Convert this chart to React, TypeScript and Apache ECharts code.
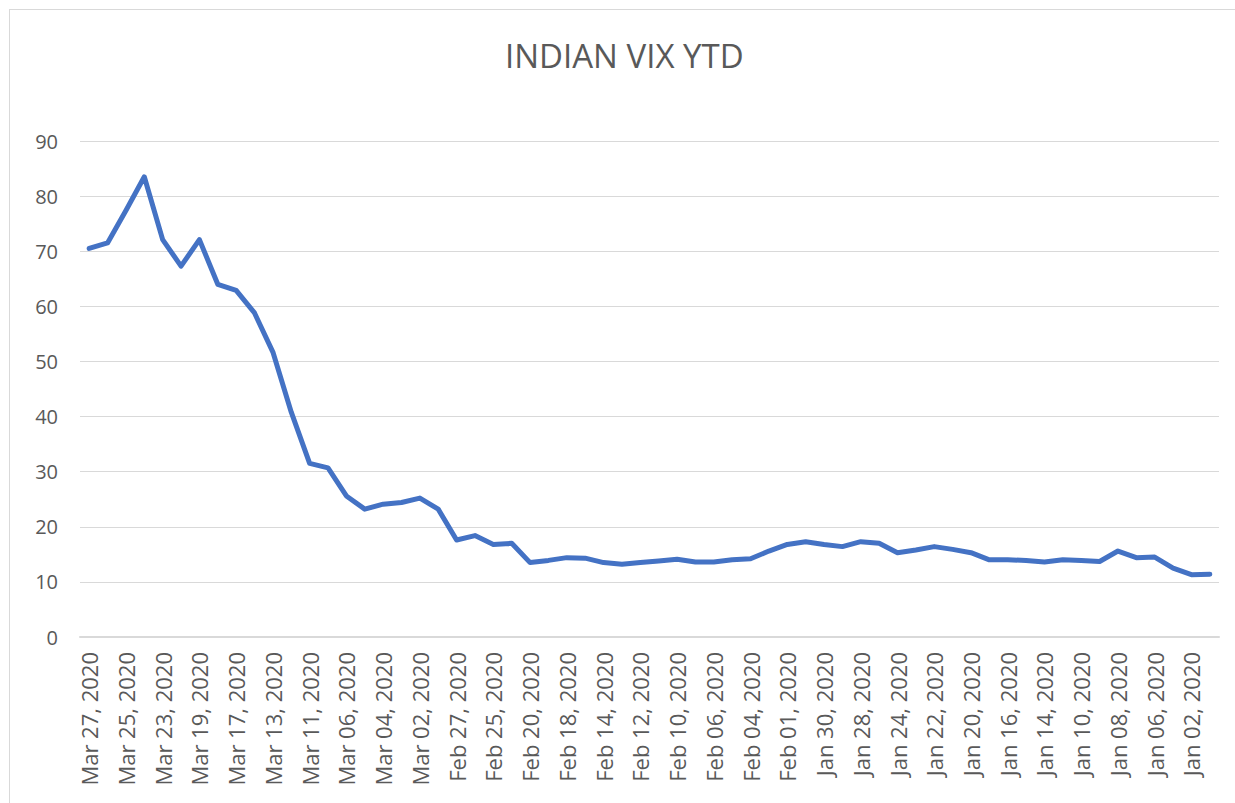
import React, { useEffect, useRef } from "react";
import * as echarts from "echarts";

const title = "INDIAN VIX YTD";

const dates: string[] = [
  "Mar 27, 2020", "Mar 26, 2020", "Mar 25, 2020", "Mar 24, 2020", "Mar 23, 2020",
  "Mar 20, 2020", "Mar 19, 2020", "Mar 18, 2020", "Mar 17, 2020", "Mar 16, 2020",
  "Mar 13, 2020", "Mar 12, 2020", "Mar 11, 2020", "Mar 09, 2020", "Mar 06, 2020",
  "Mar 05, 2020", "Mar 04, 2020", "Mar 03, 2020", "Mar 02, 2020", "Feb 28, 2020",
  "Feb 27, 2020", "Feb 26, 2020", "Feb 25, 2020", "Feb 24, 2020", "Feb 20, 2020",
  "Feb 19, 2020", "Feb 18, 2020", "Feb 17, 2020", "Feb 14, 2020", "Feb 13, 2020",
  "Feb 12, 2020", "Feb 11, 2020", "Feb 10, 2020", "Feb 07, 2020", "Feb 06, 2020",
  "Feb 05, 2020", "Feb 04, 2020", "Feb 03, 2020", "Feb 01, 2020", "Jan 31, 2020",
  "Jan 30, 2020", "Jan 29, 2020", "Jan 28, 2020", "Jan 27, 2020", "Jan 24, 2020",
  "Jan 23, 2020", "Jan 22, 2020", "Jan 21, 2020", "Jan 20, 2020", "Jan 17, 2020",
  "Jan 16, 2020", "Jan 15, 2020", "Jan 14, 2020", "Jan 13, 2020", "Jan 10, 2020",
  "Jan 09, 2020", "Jan 08, 2020", "Jan 07, 2020", "Jan 06, 2020", "Jan 03, 2020",
  "Jan 02, 2020", "Jan 01, 2020",
];

const vix: number[] = [
  70.5, 71.5, 77.4, 83.5, 72.1, 67.3, 72.1, 64.0, 62.9, 58.8,
  51.7, 40.8, 31.5, 30.7, 25.6, 23.2, 24.1, 24.4, 25.2, 23.2,
  17.6, 18.4, 16.8, 17.0, 13.5, 13.9, 14.4, 14.3, 13.5, 13.2,
  13.5, 13.8, 14.1, 13.6, 13.6, 14.0, 14.2, 15.6, 16.8, 17.3,
  16.8, 16.4, 17.3, 17.0, 15.3, 15.8, 16.4, 15.9, 15.3, 14.0,
  14.0, 13.9, 13.6, 14.0, 13.9, 13.7, 15.6, 14.4, 14.5, 12.5,
  11.3, 11.4,
];

const yTicks = { min: 0, max: 90, interval: 10 };

export default function App() {
  const ref = useRef<HTMLDivElement>(null);

  useEffect(() => {
    if (!ref.current) return;
    const chart = echarts.init(ref.current, null, { renderer: "svg" });
    chart.setOption({
      animation: false,
      backgroundColor: "#ffffff",
      title: {
        text: title,
        left: 500,
        top: 34,
        textStyle: {
          fontFamily: "Open Sans",
          fontSize: 33,
          fontWeight: "normal",
          color: "#595959",
        },
      },
      grid: { left: 80, right: 16, top: 141, bottom: 166, containLabel: false },
      xAxis: {
        type: "category",
        data: dates,
        boundaryGap: true,
        axisLine: { show: true, lineStyle: { color: "#d9d9d9", width: 2 } },
        axisTick: { show: false },
        axisLabel: {
          interval: 1,
          rotate: 90,
          margin: 15,
          fontFamily: "Open Sans",
          fontSize: 22,
          color: "#595959",
        },
        splitLine: { show: false },
      },
      yAxis: {
        type: "value",
        min: yTicks.min,
        max: yTicks.max,
        interval: yTicks.interval,
        axisLine: { show: false },
        axisTick: { show: false },
        axisLabel: {
          margin: 22,
          fontFamily: "Open Sans",
          fontSize: 20,
          color: "#595959",
        },
        splitLine: { show: true, lineStyle: { color: "#d9d9d9", width: 1.2 } },
      },
      series: [
        {
          type: "line",
          data: vix,
          symbol: "none",
          smooth: false,
          lineStyle: { color: "#4472C4", width: 5, join: "round", cap: "round" },
          itemStyle: { color: "#4472C4" },
        },
      ],
    });
    return () => chart.dispose();
  }, []);

  return (
    <div style={{ position: "absolute", left: 0, top: 0, width: 1235, height: 803, background: "#fff" }}>
      <div ref={ref} style={{ position: "absolute", left: 0, top: 0, width: 1235, height: 803 }} />
      <div
        style={{
          position: "absolute",
          left: 9,
          top: 9,
          width: 1240,
          height: 800,
          borderTop: "1.5px solid #d9d9d9",
          borderLeft: "1.5px solid #d9d9d9",
          pointerEvents: "none",
        }}
      />
    </div>
  );
}
